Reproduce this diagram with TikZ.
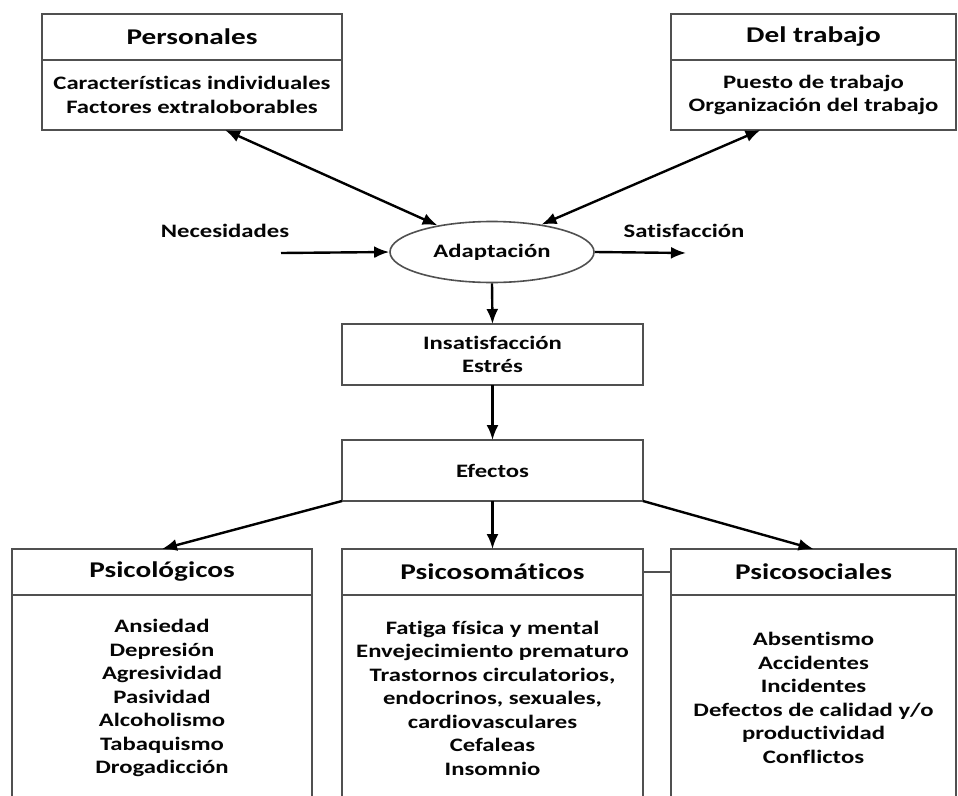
\documentclass[tikz,border=0pt]{standalone}
\usepackage{fontspec}
\setmainfont[FakeStretch=1.3,Ligatures=NoCommon]{Carlito}
\usetikzlibrary{positioning,calc,arrows.meta,shapes.geometric}
\definecolor{boxgray}{RGB}{80,80,80}
\definecolor{inkblack}{RGB}{5,5,5}

\tikzset{
  headbox/.style={draw=boxgray, line width=1.6pt, minimum height=46pt, inner sep=0pt, outer sep=0pt,
    text=inkblack, font=\fontsize{22.5}{26}\selectfont\bfseries},
  bodybox/.style={draw=boxgray, line width=1.6pt, inner sep=0pt, outer sep=0pt, align=center,
    text=inkblack, font=\fontsize{19}{23.5}\selectfont\bfseries},
  midbox/.style={bodybox, minimum width=301pt, minimum height=61pt},
  lbl/.style={text=inkblack, font=\fontsize{19}{23.5}\selectfont\bfseries},
  arrowline/.style={line width=2.4pt, black}
}

\begin{document}
\begin{tikzpicture}[x=1pt,y=-1pt,>={Latex[length=15pt,width=12pt]}]
  \useasboundingbox (0,0) rectangle (958,795);
  \clip (0,0) rectangle (958,795);
  % Top boxes
  \node[headbox, minimum width=300pt, anchor=north west] (persh) at (42,14) {Personales};
  \node[bodybox, minimum width=300pt, minimum height=70pt, below=0pt of persh] (persb)
    {Características individuales\\Factores extraloborables};
  \node[headbox, minimum width=285pt, anchor=north west] (trabh) at (671,14) {Del trabajo};
  \node[bodybox, minimum width=285pt, minimum height=70pt, below=0pt of trabh] (trabb)
    {Puesto de trabajo\\Organización del trabajo};
  % Adaptation and its inputs/outputs
  \node[ellipse, draw=boxgray, line width=1.6pt, minimum width=204pt, minimum height=61pt,
    inner sep=0pt, lbl] (adap) at (492,252) {Adaptación};
  \node[lbl] (nec) at (225,231) {Necesidades};
  \node[lbl] (sat) at (684,231) {Satisfacción};
  \coordinate (necin) at (281,253);
  \coordinate (satout) at (686,253);
  % Middle boxes
  \node[midbox, anchor=north west] (insat) at (342,324) {Insatisfacción\\Estrés};
  \node[midbox, anchor=north west] (efe) at (342,440) {Efectos};
  % Bottom boxes
  \node[headbox, minimum width=300pt, anchor=north west] (psich) at (12,549) {Psicológicos};
  \node[bodybox, minimum width=300pt, minimum height=206pt, below=0pt of psich] (psicb)
    {Ansiedad\\Depresión\\Agresividad\\Pasividad\\Alcoholismo\\Tabaquismo\\Drogadicción};
  \node[headbox, minimum width=301pt, anchor=north west] (psomh) at (342,549) {Psicosomáticos};
  \node[bodybox, minimum width=301pt, minimum height=206pt, below=0pt of psomh] (psomb)
    {Fatiga física y mental\\Envejecimiento prematuro\\Trastornos circulatorios,\\endocrinos, sexuales,\\cardiovasculares\\Cefaleas\\Insomnio};
  \node[headbox, minimum width=285pt, anchor=north west] (psoch) at (671,549) {Psicosociales};
  \node[bodybox, minimum width=285pt, minimum height=206pt, below=0pt of psoch] (psocb)
    {Absentismo\\Accidentes\\Incidentes\\Defectos de calidad y/o\\productividad\\Conflictos};
  % Connectors
  \draw[<->, arrowline] ($(persb.south)+(33,0)$) -- (adap.154);
  \draw[<->, arrowline] ($(trabb.south)+(-53,0)$) -- (adap.29);
  \draw[->, arrowline] (necin) -- (adap.west);
  \draw[->, arrowline] (adap.east) -- (satout);
  \draw[->, arrowline] (adap.south) -- (insat.north);
  \draw[->, arrowline] (insat.south) -- (efe.north);
  \draw[->, arrowline] (efe.south west) -- (psich.north);
  \draw[->, arrowline] (efe.south) -- (psomh.north);
  \draw[->, arrowline] (efe.south east) -- (psoch.north);
  \draw[boxgray, line width=1.6pt] (psomh.east) -- (psoch.west);
\end{tikzpicture}
\end{document}
